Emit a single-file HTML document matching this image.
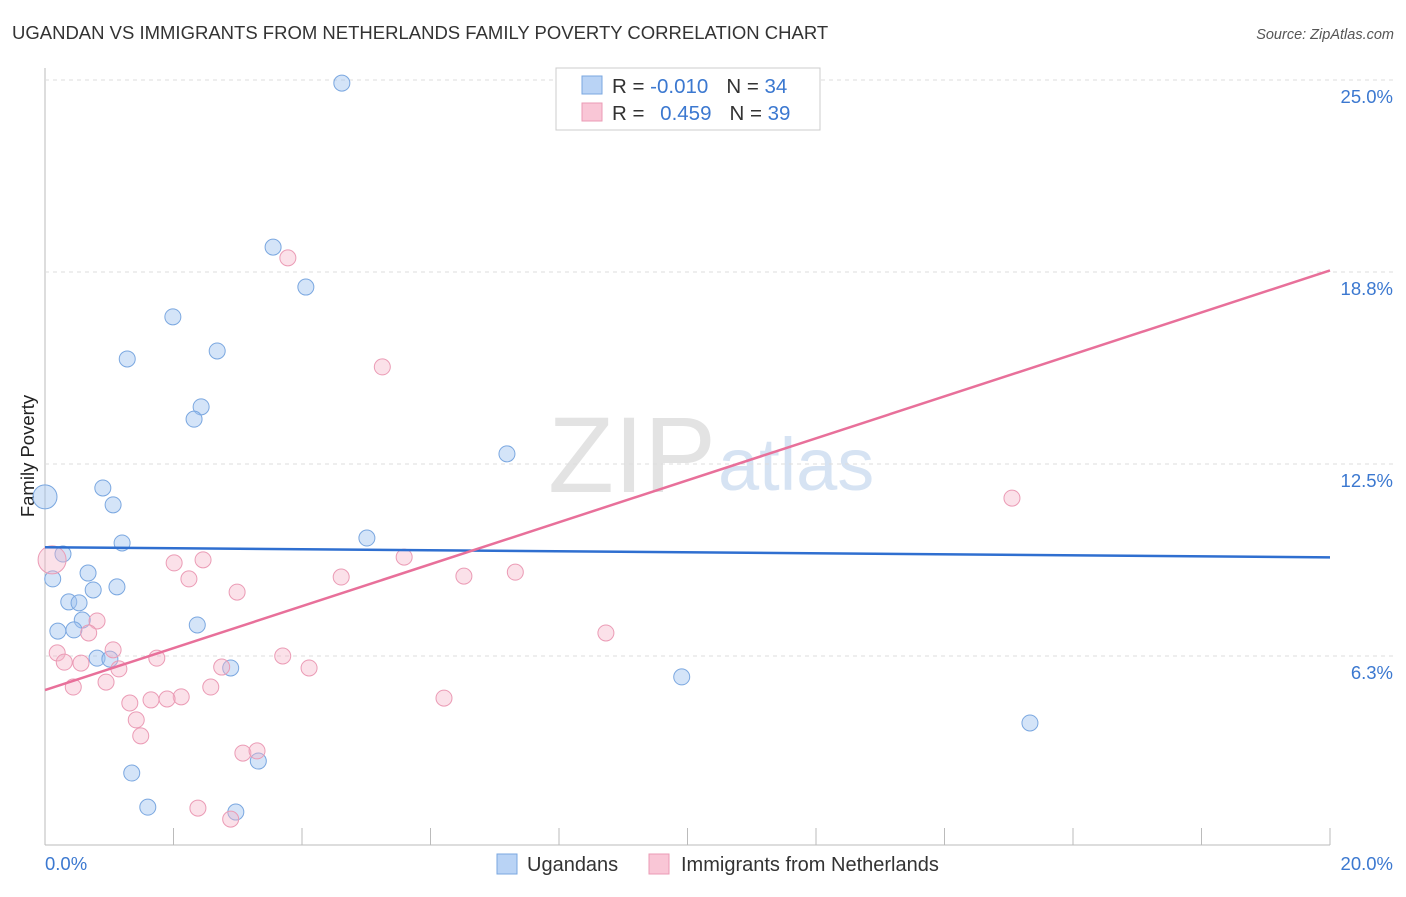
<!DOCTYPE html>
<html><head><meta charset="utf-8"><style>
body{margin:0;background:#fff;font-family:"Liberation Sans",sans-serif;}
svg text{font-family:"Liberation Sans",sans-serif;}
</style></head><body>
<svg id="c" width="1406" height="892">
<text x="12" y="39" font-size="18.5" fill="#333">UGANDAN VS IMMIGRANTS FROM NETHERLANDS FAMILY POVERTY CORRELATION CHART</text>
<text x="1394" y="39" font-size="14.5" fill="#555" font-style="italic" text-anchor="end">Source: ZipAtlas.com</text>
<text x="716" y="492" font-size="108" fill="#e3e3e3" font-family="Liberation Serif" text-anchor="end">ZIP</text>
<text x="718" y="490" font-size="74" fill="#d6e3f3">atlas</text>
<text x="34" y="456" font-size="18.5" fill="#222" transform="rotate(-90 34 456)" text-anchor="middle">Family Poverty</text>
<g id="grid"></g><g id="pts"></g><g id="lines"></g>
<g>
<rect x="556" y="68" width="264" height="62" fill="#fff" stroke="#ccc"/>
<rect x="582" y="76" width="20" height="18" fill="#b9d3f5" stroke="#7aa7e0"/>
<rect x="582" y="103" width="20" height="18" fill="#f9c6d6" stroke="#eb9bb5"/>
<text x="612" y="93" font-size="20.5" fill="#333">R = <tspan fill="#3b78d0">-0.010</tspan><tspan dx="18">N = </tspan><tspan fill="#3b78d0">34</tspan></text>
<text x="612" y="120" font-size="20.5" fill="#333">R = <tspan fill="#3b78d0" dx="10">0.459</tspan><tspan dx="18">N = </tspan><tspan fill="#3b78d0">39</tspan></text>
</g>
<g>
<rect x="497" y="854" width="20" height="20" fill="#b9d3f5" stroke="#7aa7e0"/>
<text x="527" y="871" font-size="20" fill="#333">Ugandans</text>
<rect x="649" y="854" width="20" height="20" fill="#f9c6d6" stroke="#eb9bb5"/>
<text x="681" y="871" font-size="20" fill="#333">Immigrants from Netherlands</text>
</g>
</svg>
<script>
const xTicks=[0,20];
const yTicks=[6.3,12.5,18.8,25.0];
const blueX=[4.62,3.55,4.06,1.99,1.28,2.68,2.43,2.32,7.19,0,0.90,1.06,1.20,5.01,0.28,0.12,0.67,1.12,0.75,0.37,0.53,0.58,0.20,0.45,2.37,0.81,1.01,2.89,9.91,15.33,1.35,3.32,1.60,2.97];
const blueY=[24.9,19.56,18.26,17.29,15.92,16.18,14.36,13.96,12.83,11.43,11.72,11.17,9.93,10.09,9.57,8.76,8.95,8.50,8.40,8.01,7.98,7.42,7.06,7.10,7.26,6.18,6.15,5.86,5.57,4.07,2.44,2.83,1.33,1.17];
const pinkX=[9.03,3.78,5.25,15.05,0.11,2.01,2.46,5.59,2.24,4.61,6.52,7.32,2.99,0.81,0.68,8.73,1.06,0.19,1.74,3.70,0.30,0.56,1.15,2.75,4.11,0.95,0.44,2.58,2.12,1.90,1.65,1.32,6.21,1.42,1.49,3.08,3.30,2.38,2.89];
const pinkY=[25.0,19.21,15.66,11.39,9.38,9.28,9.38,9.47,8.76,8.82,8.85,8.98,8.33,7.39,7.00,7.00,6.45,6.35,6.18,6.25,6.05,6.02,5.83,5.89,5.86,5.40,5.24,5.24,4.92,4.85,4.82,4.72,4.88,4.17,3.65,3.09,3.16,1.30,0.94];
const blueTrend=[9.79,9.46];
const pinkTrend=[5.14,18.80];
const NS='http://www.w3.org/2000/svg';
const sx=v=>45+v*64.25, sy=v=>848-v*30.72;
function mk(t,a,p){const e=document.createElementNS(NS,t);for(const k in a)e.setAttribute(k,a[k]);p.appendChild(e);return e;}
const grid=document.getElementById('grid');
mk('line',{x1:45,y1:68,x2:45,y2:845,stroke:'#bbb'},grid);
mk('line',{x1:45,y1:845,x2:1330,y2:845,stroke:'#bbb'},grid);
for(let i=0;i<=10;i++){const x=45+i*128.5;mk('line',{x1:x,y1:828,x2:x,y2:845,stroke:'#bbb'},grid);}
yTicks.forEach(v=>{const y=sy(v===6.3?6.25:v===18.8?18.75:v);
const l=mk('line',{x1:45,y1:y,x2:1395,y2:y,stroke:'#ddd','stroke-dasharray':'4,4'},grid);


const t=mk('text',{x:1393,y:y+23,'font-size':18.5,fill:'#3b78d0','text-anchor':'end'},grid);t.textContent=v.toFixed(1)+'%';

});
xTicks.forEach((v,i)=>{const t=mk('text',{x:i?1393:45,y:870,'font-size':18.5,fill:'#3b78d0','text-anchor':i?'end':'start'},grid);t.textContent=v.toFixed(1)+'%';

});
const pts=document.getElementById('pts');
blueX.forEach((x,i)=>{const c=mk('circle',{cx:sx(x),cy:sy(blueY[i]),r:x===0?12:8,fill:'rgba(160,196,240,0.45)',stroke:'#7aa7e0','stroke-width':1},pts);

});
pinkX.forEach((x,i)=>{const c=mk('circle',{cx:sx(x),cy:sy(pinkY[i]),r:i===4?14:8,fill:'rgba(246,180,200,0.4)',stroke:'#eb9bb5','stroke-width':1},pts);

});
const lines=document.getElementById('lines');
const b=mk('line',{x1:sx(0),y1:sy(blueTrend[0]),x2:sx(20),y2:sy(blueTrend[1]),stroke:'#2f6fd0','stroke-width':2.5},lines);


const p=mk('line',{x1:sx(0),y1:sy(pinkTrend[0]),x2:sx(20),y2:sy(pinkTrend[1]),stroke:'#e8709a','stroke-width':2.5},lines);


</script>
</body></html>
